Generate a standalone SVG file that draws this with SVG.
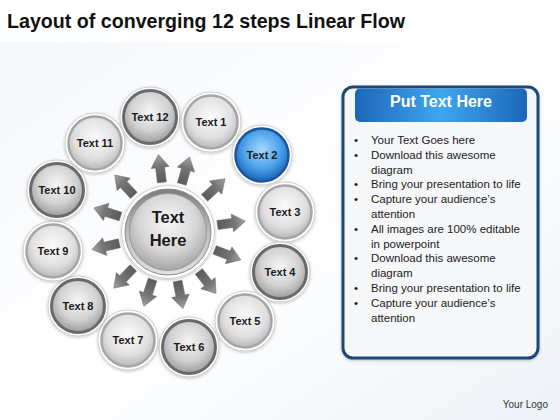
<svg xmlns="http://www.w3.org/2000/svg" width="560" height="420" viewBox="0 0 560 420">
<defs>
<linearGradient id="bg" x1="0" y1="0" x2="1" y2="1">
<stop offset="0" stop-color="#f4f7fb"/><stop offset="0.5" stop-color="#ffffff"/><stop offset="1" stop-color="#eef3f8"/>
</linearGradient>
<radialGradient id="gDark" cx="50%" cy="40%" r="60%">
<stop offset="0" stop-color="#f6f6f6"/><stop offset="0.6" stop-color="#d2d2d2"/><stop offset="1" stop-color="#9c9c9c"/>
</radialGradient>
<radialGradient id="gLight" cx="50%" cy="40%" r="60%">
<stop offset="0" stop-color="#fbfbfb"/><stop offset="0.65" stop-color="#e0e0e0"/><stop offset="1" stop-color="#b8b8b8"/>
</radialGradient>
<radialGradient id="gBlue" cx="50%" cy="40%" r="60%">
<stop offset="0" stop-color="#a9dafc"/><stop offset="0.6" stop-color="#4aa0ea"/><stop offset="1" stop-color="#1a62b6"/>
</radialGradient>
<radialGradient id="gCenter" cx="50%" cy="38%" r="62%">
<stop offset="0" stop-color="#f7f7f7"/><stop offset="0.6" stop-color="#d6d6d6"/><stop offset="1" stop-color="#a5a5a5"/>
</radialGradient>
<linearGradient id="gCRing" x1="0" y1="0" x2="0" y2="1">
<stop offset="0" stop-color="#7d7d7d"/><stop offset="0.5" stop-color="#bdbdbd"/><stop offset="1" stop-color="#e2e2e2"/>
</linearGradient>
<linearGradient id="gArrow" x1="50" y1="0" x2="78" y2="0" gradientUnits="userSpaceOnUse">
<stop offset="0" stop-color="#5a5a5a"/><stop offset="0.6" stop-color="#767676"/><stop offset="1" stop-color="#a5a5a5"/>
</linearGradient>
<linearGradient id="gHead" x1="0" y1="0" x2="1" y2="0">
<stop offset="0" stop-color="#1d66b8"/><stop offset="0.5" stop-color="#3fa6ef"/><stop offset="1" stop-color="#1d66b8"/>
</linearGradient>
<filter id="sh" x="-20%" y="-20%" width="140%" height="140%">
<feDropShadow dx="0" dy="1" stdDeviation="1.5" flood-color="#000" flood-opacity="0.25"/>
</filter>
<path id="arr" d="M50,-4.5 L65,-4.5 L65,-9 L78,0 L65,9 L65,4.5 L50,4.5 Z"/>
</defs>
<style>
.ring{fill:#fff;stroke:#cfcfcf;stroke-width:1;filter:url(#sh)}
.dk{fill:url(#gDark);stroke:#6a6a6a;stroke-width:3}
.lt{fill:url(#gLight);stroke:#a6a6a6;stroke-width:2.5}
.bl{fill:url(#gBlue);stroke:#1c579c;stroke-width:2.5}
.lbl{font-family:"Liberation Sans",Arial,sans-serif;font-weight:bold;font-size:11px;fill:#1a1a1a;text-anchor:middle}
.big{font-size:16.5px}
.arrow{fill:url(#gArrow);stroke:#666;stroke-width:0.5}
.li{font-family:"Liberation Sans",Arial,sans-serif;font-size:11.5px;fill:#222}
</style>
<rect width="560" height="420" fill="#ffffff"/>
<rect y="42" width="560" height="378" fill="url(#bg)"/>
<text x="7" y="28" font-family="Liberation Sans, Arial, sans-serif" font-weight="bold" font-size="21" fill="#111" textLength="398" lengthAdjust="spacingAndGlyphs">Layout of converging 12 steps Linear Flow</text>

<g id="connectors">
<use href="#arr" class="arrow" transform="translate(168,232) rotate(-74)"/>
<use href="#arr" class="arrow" transform="translate(168,232) rotate(-43)"/>
<use href="#arr" class="arrow" transform="translate(168,232) rotate(-8)"/>
<use href="#arr" class="arrow" transform="translate(168,232) rotate(21)"/>
<use href="#arr" class="arrow" transform="translate(168,232) rotate(52)"/>
<use href="#arr" class="arrow" transform="translate(168,232) rotate(79)"/>
<use href="#arr" class="arrow" transform="translate(168,232) rotate(108)"/>
<use href="#arr" class="arrow" transform="translate(168,232) rotate(134)"/>
<use href="#arr" class="arrow" transform="translate(168,232) rotate(167)"/>
<use href="#arr" class="arrow" transform="translate(168,232) rotate(198)"/>
<use href="#arr" class="arrow" transform="translate(168,232) rotate(227)"/>
<use href="#arr" class="arrow" transform="translate(168,232) rotate(263)"/>
</g>

<g id="center">
<circle cx="168" cy="232" r="46.5" class="ring"/>
<circle cx="168" cy="232" r="43" fill="url(#gCRing)" stroke="#8a8a8a" stroke-width="1"/>
<circle cx="168" cy="232" r="38.5" fill="url(#gCenter)" stroke="#9a9a9a" stroke-width="1"/>
<text x="168" y="223" class="lbl big">Text</text>
<text x="168" y="246" class="lbl big">Here</text>
</g>

<g id="n12"><circle cx="150" cy="117" r="30" class="ring"/><circle cx="150" cy="117" r="26.5" class="dk"/><text x="150" y="121" class="lbl">Text 12</text></g>
<g id="n1"><circle cx="211" cy="122" r="30" class="ring"/><circle cx="211" cy="122" r="26.5" class="lt"/><text x="211" y="126" class="lbl">Text 1</text></g>
<g id="n2"><circle cx="262" cy="155" r="30" class="ring"/><circle cx="262" cy="155" r="26.5" class="bl"/><text x="262" y="159" class="lbl">Text 2</text></g>
<g id="n3"><circle cx="285" cy="212" r="30" class="ring"/><circle cx="285" cy="212" r="26.5" class="lt"/><text x="285" y="216" class="lbl">Text 3</text></g>
<g id="n4"><circle cx="280" cy="272" r="30" class="ring"/><circle cx="280" cy="272" r="26.5" class="dk"/><text x="280" y="276" class="lbl">Text 4</text></g>
<g id="n5"><circle cx="245" cy="321" r="30" class="ring"/><circle cx="245" cy="321" r="26.5" class="lt"/><text x="245" y="325" class="lbl">Text 5</text></g>
<g id="n6"><circle cx="189" cy="347" r="30" class="ring"/><circle cx="189" cy="347" r="26.5" class="dk"/><text x="189" y="351" class="lbl">Text 6</text></g>
<g id="n7"><circle cx="128" cy="340" r="30" class="ring"/><circle cx="128" cy="340" r="26.5" class="lt"/><text x="128" y="344" class="lbl">Text 7</text></g>
<g id="n8"><circle cx="78" cy="306" r="30" class="ring"/><circle cx="78" cy="306" r="26.5" class="dk"/><text x="78" y="310" class="lbl">Text 8</text></g>
<g id="n9"><circle cx="53" cy="251" r="30" class="ring"/><circle cx="53" cy="251" r="26.5" class="lt"/><text x="53" y="255" class="lbl">Text 9</text></g>
<g id="n10"><circle cx="57" cy="190" r="30" class="ring"/><circle cx="57" cy="190" r="26.5" class="dk"/><text x="57" y="194" class="lbl">Text 10</text></g>
<g id="n11"><circle cx="95" cy="143" r="30" class="ring"/><circle cx="95" cy="143" r="26.5" class="lt"/><text x="95" y="147" class="lbl">Text 11</text></g>

<g id="panel">
<rect x="343" y="87" width="195" height="271" rx="10" fill="#f6f7f9" stroke="#1f4a73" stroke-width="3" filter="url(#sh)"/>
<rect x="355" y="88.5" width="172" height="33.5" rx="5" fill="url(#gHead)"/>
<text x="441" y="107" font-family="Liberation Sans, Arial, sans-serif" font-weight="bold" font-size="16" fill="#ffffff" text-anchor="middle">Put Text Here</text>
<g class="li">
<text x="354" y="144">•</text><text x="371" y="144">Your Text Goes here</text>
<text x="354" y="158.8">•</text><text x="371" y="158.8">Download this awesome</text>
<text x="371" y="173.6">diagram</text>
<text x="354" y="188.4">•</text><text x="371" y="188.4">Bring your presentation to life</text>
<text x="354" y="203.2">•</text><text x="371" y="203.2">Capture your audience’s</text>
<text x="371" y="218">attention</text>
<text x="354" y="232.8">•</text><text x="371" y="232.8">All images are 100% editable</text>
<text x="371" y="247.6">in powerpoint</text>
<text x="354" y="262.4">•</text><text x="371" y="262.4">Download this awesome</text>
<text x="371" y="277.2">diagram</text>
<text x="354" y="292">•</text><text x="371" y="292">Bring your presentation to life</text>
<text x="354" y="306.8">•</text><text x="371" y="306.8">Capture your audience’s</text>
<text x="371" y="321.6">attention</text>
</g>
</g>
<text x="548" y="408" font-family="Liberation Sans, Arial, sans-serif" font-size="10" fill="#333" text-anchor="end">Your Logo</text>
</svg>
